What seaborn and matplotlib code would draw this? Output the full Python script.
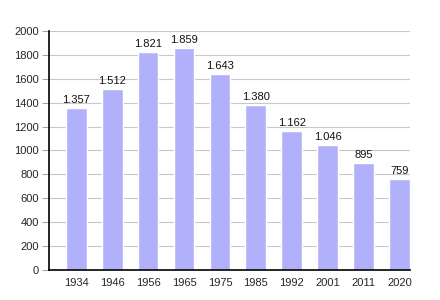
import matplotlib
matplotlib.use("Agg")
import matplotlib.pyplot as plt
import seaborn as sns
import pandas as pd

years = ["1934", "1946", "1956", "1965", "1975", "1985", "1992", "2001", "2011", "2020"]
population = [1357, 1512, 1821, 1859, 1643, 1380, 1162, 1046, 895, 759]
labels = ["1.357", "1.512", "1.821", "1.859", "1.643", "1.380", "1.162", "1.046", "895", "759"]

sns.set_style("white")
plt.rcParams['font.family'] = ['Liberation Sans', 'DejaVu Sans']

df = pd.DataFrame({"year": years, "pop": population})
fig = plt.figure(figsize=(4.4, 3.0), dpi=100)
ax = fig.add_axes([0.111, 0.1, 0.821, 0.797])
sns.barplot(data=df, x="year", y="pop", color="#b1b1fb", saturation=1, width=0.58, ax=ax, zorder=2)
ax.set_ylim(0, 2000)
ax.set_yticks(range(0, 2001, 200))
ax.set_xlim(-0.76, 9.29)
ax.yaxis.grid(True, color="#c8c8c8", linewidth=0.8, zorder=0)
ax.set_axisbelow(True)
for s in ["top", "right"]:
    ax.spines[s].set_visible(False)
for s in ["left", "bottom"]:
    ax.spines[s].set_color("black")
    ax.spines[s].set_linewidth(1.2)
ax.tick_params(axis="y", left=True, length=5, color="#aaaaaa", labelsize=8, pad=2)
ax.tick_params(axis="x", bottom=False, labelsize=8, pad=2)
ax.set_xlabel("")
ax.set_ylabel("")
for i, (v, t) in enumerate(zip(population, labels)):
    ax.text(i, v + 25, t, ha="center", va="bottom", fontsize=8, color="#111111")
fig.savefig("out.png", dpi=100)
